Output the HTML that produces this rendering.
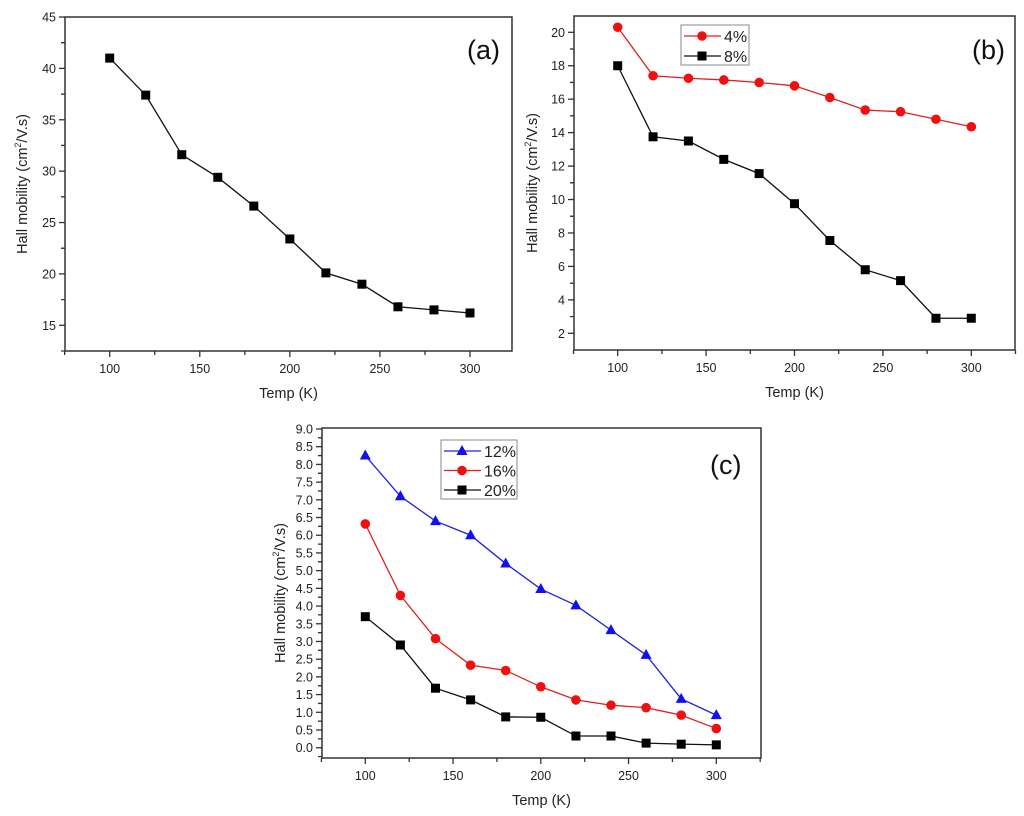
<!DOCTYPE html>
<html><head><meta charset="utf-8"><style>
body{margin:0;background:#fff;}
svg{display:block;font-family:"Liberation Sans",Arial,sans-serif;}
</style></head><body>
<svg id="s" width="1024" height="816" viewBox="0 0 1024 816" xmlns="http://www.w3.org/2000/svg"></svg>
<script>
const temps=[100,120,140,160,180,200,220,240,260,280,300];
const aVals=[41,37.4,31.6,29.4,26.6,23.4,20.1,19.0,16.8,16.5,16.2];
const b4=[20.3,17.4,17.25,17.15,17.0,16.8,16.1,15.35,15.25,14.8,14.35];
const b8=[18,13.75,13.5,12.4,11.55,9.75,7.55,5.8,5.15,2.9,2.9];
const c12=[8.25,7.1,6.4,6.0,5.2,4.48,4.02,3.32,2.62,1.38,0.92];
const c16=[6.32,4.3,3.08,2.33,2.18,1.72,1.35,1.2,1.13,0.92,0.54];
const c20=[3.7,2.9,1.68,1.35,0.87,0.86,0.33,0.33,0.13,0.1,0.08];
const xTicks=[100,150,200,250,300];
const aTicks=[15,20,25,30,35,40,45];
const bTicks=[2,4,6,8,10,12,14,16,18,20];
const cTicks=[0,0.5,1,1.5,2,2.5,3,3.5,4,4.5,5,5.5,6,6.5,7,7.5,8,8.5,9];

const S=document.getElementById('s');
const NS='http://www.w3.org/2000/svg';
function el(t,a,p){const e=document.createElementNS(NS,t);for(const k in a)e.setAttribute(k,a[k]);(p||S).appendChild(e);return e;}

function panel(cfg){
  const g=el('g',{});
  
  
  const X=v=>cfg.x100+(v-100)*(cfg.x300-cfg.x100)/200;
  const Y=v=>cfg.yA+(v-cfg.vA)*(cfg.yB-cfg.yA)/(cfg.vB-cfg.vA);
  const L=cfg.L,R=cfg.R,T=cfg.T,B=cfg.B;
  const fr=el('rect',{x:L,y:T,width:R-L,height:B-T,fill:'none',stroke:'#333','stroke-width':1.5},g);
  
  
  // x ticks
  for(let v=75;v<=325;v+=25){const px=X(v);if(px<L-1||px>R+1)continue;
    const major=v%50===0;
    el('line',{x1:px,y1:B,x2:px,y2:B+(major?6:4),stroke:'#333','stroke-width':1.3},g);}
  xTicks.forEach(v=>{const t=el('text',{x:X(v),y:B+22,'text-anchor':'middle','font-size':12.5,fill:'#222'},g);t.textContent=v;
    });
  // y ticks
  const yt=cfg.yTicks,step=yt[1]-yt[0];
  for(let i=0;i<yt.length;i++){const v=yt[i];
    el('line',{x1:L-6,y1:Y(v),x2:L,y2:Y(v),stroke:'#333','stroke-width':1.3},g);
    const t=el('text',{x:L-9,y:Y(v)+4.5,'text-anchor':'end','font-size':12.5,fill:'#222'},g);t.textContent=cfg.fmt(v);
    
    for(const m of [v-step/2,v+step/2]){const py=Y(m);if(py>T&&py<B&&(i>0||m<v)) el('line',{x1:L-4,y1:py,x2:L,y2:py,stroke:'#333','stroke-width':1.2},g);}
  }
  const xt=el('text',{x:(L+R)/2,y:B+47,'text-anchor':'middle','font-size':14.5,fill:'#222'},g);xt.textContent='Temp (K)';
  
  const ty=el('text',{transform:`translate(${cfg.ytx},${(T+B)/2}) rotate(-90)`,'text-anchor':'middle','font-size':14.5,fill:'#222'},g);
  ty.innerHTML='Hall mobility (cm<tspan dy="-6" font-size="9">2</tspan><tspan dy="6">/V.s)</tspan>';
  
  const lb=el('text',{x:cfg.lbx,y:cfg.lby,'font-size':27,fill:'#111'},g);lb.textContent=cfg.label;
  
  cfg.series.forEach(s=>{
    const sg=el('g',{},g);
    
    el('polyline',{points:temps.map((t,i)=>X(t)+','+Y(s.vals[i])).join(' '),fill:'none',stroke:s.color,'stroke-width':1.3},sg);
    temps.forEach((t,i)=>marker(sg,s.shape,X(t),Y(s.vals[i]),s.fill));
  });
  if(cfg.legend){const lg=cfg.legend;
    const lgG=el('g',{},g);
    el('rect',{x:lg.x,y:lg.y,width:lg.w,height:lg.h,fill:'#fff',stroke:'#888','stroke-width':1},lgG);
    cfg.series.forEach((s,i)=>{const cy=lg.y+11+i*lg.dy;
      const e=el('g',{},lgG);
      el('line',{x1:lg.x+3,y1:cy,x2:lg.x+40,y2:cy,stroke:s.color,'stroke-width':1.3},e);
      marker(e,s.shape,lg.x+21,cy,s.fill);
      const t=el('text',{x:lg.x+43,y:cy+6,'font-size':16,fill:'#222'},e);t.textContent=s.key;});
  }
}
function marker(g,shape,x,y,c){
  if(shape==='sq')el('rect',{x:x-4.5,y:y-4.5,width:9,height:9,fill:c},g);
  else if(shape==='ci')el('circle',{cx:x,cy:y,r:4.8,fill:c},g);
  else el('polygon',{points:`${x},${y-6} ${x-5.5},${y+4} ${x+5.5},${y+4}`,fill:c},g);
}
panel({name:'panel-a',L:65,R:512,T:17,B:351,x100:109.7,x300:470,vA:45,yA:17,vB:15,yB:325.3,
  yTicks:aTicks,fmt:v=>v,ytx:27,label:'(a)',lbx:467,lby:59,
  series:[{key:'a',vals:aVals,color:'#111',fill:'#000',shape:'sq'}]});
panel({name:'panel-b',L:574,R:1015,T:16,B:350,x100:617.7,x300:971.3,vA:20,yA:32.3,vB:2,yB:333.3,
  yTicks:bTicks,fmt:v=>v,ytx:537,label:'(b)',lbx:972,lby:59,
  legend:{x:681,y:25,w:68,h:40,dy:20},
  series:[{key:'4%',vals:b4,color:'#e02020',fill:'#f01010',shape:'ci'},{key:'8%',vals:b8,color:'#111',fill:'#000',shape:'sq'}]});
panel({name:'panel-c',L:322,R:761,T:428,B:758,x100:365.3,x300:716.3,vA:9,yA:429,vB:0,yB:747.7,
  yTicks:cTicks,fmt:v=>v.toFixed(1),ytx:285,label:'(c)',lbx:710,lby:474,
  legend:{x:441,y:440,w:76,h:59,dy:19.5},
  series:[{key:'12%',vals:c12,color:'#2020e0',fill:'#1010f0',shape:'tr'},{key:'16%',vals:c16,color:'#e02020',fill:'#f01010',shape:'ci'},{key:'20%',vals:c20,color:'#111',fill:'#000',shape:'sq'}]});
</script>
</body></html>
